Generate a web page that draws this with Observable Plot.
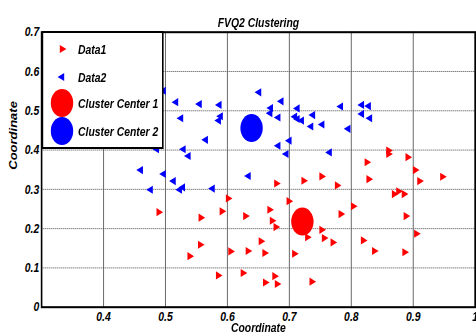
<!DOCTYPE html>
<html><head><meta charset="utf-8">
<script src="https://cdn.jsdelivr.net/npm/d3@7"></script>
<script src="https://cdn.jsdelivr.net/npm/@observablehq/plot@0.6"></script>
<style>
body{margin:0;background:#fff;overflow:hidden}
#wrap{position:relative;width:595px;height:335px;transform:scaleX(0.8);transform-origin:0 0;background:#fff}
#legend{position:absolute;left:51.5px;top:31px}
#legend text{font-family:'Liberation Sans',Arial,sans-serif;font-size:13px;font-weight:bold;font-style:italic}
</style></head><body><div id="wrap"></div>
<script>
const title = "FVQ2 Clustering";
const xLabel = "Coordinate";
const yLabel = "Coordinate";
const xTicks = [0.4, 0.5, 0.6, 0.7, 0.8, 0.9, 1];
const yTicks = [0, 0.1, 0.2, 0.3, 0.4, 0.5, 0.6, 0.7];
const seriesNames = ["Data1", "Data2"];
const centerNames = ["Cluster Center 1", "Cluster Center 2"];
const colors = ["#ff0000", "#0000ff"];

const data1X = [0.860,0.860,0.891,0.825,0.903,0.947,0.910,0.828,0.752,0.723,0.777,0.679,0.869,0.876,0.885,0.601,0.803,0.699,0.783,0.489,0.591,0.668,0.629,0.557,0.888,0.672,0.678,0.752,0.729,0.756,0.770,0.654,0.819,0.905,0.556,0.605,0.633,0.660,0.708,0.837,0.886,0.539,0.585,0.625,0.661,0.676,0.680,0.736];
const data1Y = [0.399,0.390,0.382,0.369,0.349,0.332,0.321,0.326,0.333,0.322,0.310,0.315,0.288,0.295,0.288,0.277,0.257,0.270,0.237,0.242,0.244,0.248,0.232,0.228,0.232,0.220,0.204,0.197,0.178,0.176,0.165,0.168,0.170,0.187,0.159,0.142,0.143,0.138,0.136,0.143,0.140,0.130,0.081,0.087,0.063,0.079,0.059,0.065];
const data2X = [0.651,0.517,0.555,0.587,0.497,0.525,0.589,0.586,0.565,0.529,0.537,0.486,0.460,0.497,0.513,0.476,0.523,0.528,0.576,0.634,0.670,0.669,0.687,0.682,0.713,0.709,0.713,0.720,0.738,0.735,0.753,0.700,0.682,0.695,0.783,0.795,0.817,0.828,0.817,0.830,0.765];
const data2Y = [0.547,0.522,0.517,0.515,0.551,0.481,0.486,0.475,0.426,0.402,0.385,0.402,0.349,0.339,0.321,0.299,0.299,0.305,0.302,0.334,0.507,0.494,0.524,0.483,0.506,0.485,0.479,0.475,0.489,0.460,0.465,0.424,0.411,0.390,0.511,0.454,0.515,0.512,0.492,0.481,0.394];
const centerX = [0.721, 0.639];
const centerY = [0.218, 0.456];

const triRight = {draw(ctx, size) {
  const k = Math.sqrt(size / Math.PI) / 3, a = 3.7 * k, b = 7.5 * k;
  ctx.moveTo(2 * b / 3, 0); ctx.lineTo(-b / 3, -a); ctx.lineTo(-b / 3, a); ctx.closePath();
}};
const triLeft = {draw(ctx, size) {
  const k = Math.sqrt(size / Math.PI) / 3, a = 3.7 * k, b = 7.5 * k;
  ctx.moveTo(-2 * b / 3, 0); ctx.lineTo(b / 3, -a); ctx.lineTo(b / 3, a); ctx.closePath();
}};

const d1 = data1X.map((x, i) => ({x, y: data1Y[i]}));
const d2 = data2X.map((x, i) => ({x, y: data2Y[i]}));
const centers = centerX.map((x, i) => ({x, y: centerY[i], c: colors[i], name: centerNames[i]}));
const fmt = d => String(d);

const chart = Plot.plot({
  width: 595, height: 335,
  marginLeft: 51.5, marginRight: 1.5, marginTop: 31.7, marginBottom: 28.3,
  style: {fontFamily: "'Liberation Sans', Arial, sans-serif", fontSize: "13px", fontWeight: "bold", fontStyle: "italic", background: "transparent", overflow: "visible"},
  x: {domain: [0.3, 1], label: null},
  y: {domain: [0, 0.7], label: null},
  marks: [
    Plot.gridX(xTicks, {stroke: "#707070", strokeOpacity: 1, strokeWidth: 1.3}),
    Plot.gridY(yTicks, {stroke: "#555", strokeOpacity: 1, strokeDasharray: "1.5,1"}),
    Plot.axisX(xTicks, {tickSize: 0, tickPadding: 5, tickFormat: fmt, label: null}),
    Plot.axisY(yTicks, {tickSize: 0, tickPadding: 3, tickFormat: fmt, label: null}),
    Plot.dot(d1, {x: "x", y: "y", r: 3.3, symbol: triRight, fill: colors[0]}),
    Plot.dot(d2, {x: "x", y: "y", r: 3.3, symbol: triLeft, fill: colors[1]}),
    Plot.dot(centers, {x: "x", y: "y", r: 14, fill: d => d.c}),
    Plot.frame({stroke: "black", strokeWidth: 2}),
    Plot.text([title], {text: d => d, frameAnchor: "top", dy: -14.4}),
    Plot.text([xLabel], {text: d => d, frameAnchor: "bottom", dy: 25}),
    Plot.text([yLabel], {text: d => d, frameAnchor: "left", dx: -35, rotate: -90})
  ]
});
const wrap = document.getElementById("wrap");
wrap.appendChild(chart);

// legend
const ns = "http://www.w3.org/2000/svg";
const lg = document.createElementNS(ns, "svg");
lg.setAttribute("id", "legend");
lg.setAttribute("width", 153); lg.setAttribute("height", 119);
const rect = document.createElementNS(ns, "rect");
rect.setAttribute("x", 1); rect.setAttribute("y", 1); rect.setAttribute("width", 150.5); rect.setAttribute("height", 116);
rect.setAttribute("fill", "white"); rect.setAttribute("stroke", "black"); rect.setAttribute("stroke-width", 2);
lg.appendChild(rect);
const rows = [18, 46, 72, 100];
const entries = [
  {name: seriesNames[0], kind: "right", color: colors[0]},
  {name: seriesNames[1], kind: "left", color: colors[1]},
  {name: centerNames[0], kind: "circle", color: colors[0]},
  {name: centerNames[1], kind: "circle", color: colors[1]}
];
entries.forEach((e, i) => {
  const y = rows[i], x = 25.5;
  let sym;
  if (e.kind === "circle") {
    sym = document.createElementNS(ns, "circle");
    sym.setAttribute("cx", x); sym.setAttribute("cy", y); sym.setAttribute("r", 14);
  } else {
    sym = document.createElementNS(ns, "path");
    const p = d3.path();
    (e.kind === "right" ? triRight : triLeft).draw(p, 3.3 * 3.3 * Math.PI);
    sym.setAttribute("d", p.toString());
    sym.setAttribute("transform", `translate(${x},${y})`);
  }
  sym.setAttribute("fill", e.color);
  lg.appendChild(sym);
  const t = document.createElementNS(ns, "text");
  t.setAttribute("x", 45.5); t.setAttribute("y", y); t.setAttribute("dy", "0.35em");
  t.textContent = e.name;
  lg.appendChild(t);
});
wrap.appendChild(lg);
</script></body></html>
